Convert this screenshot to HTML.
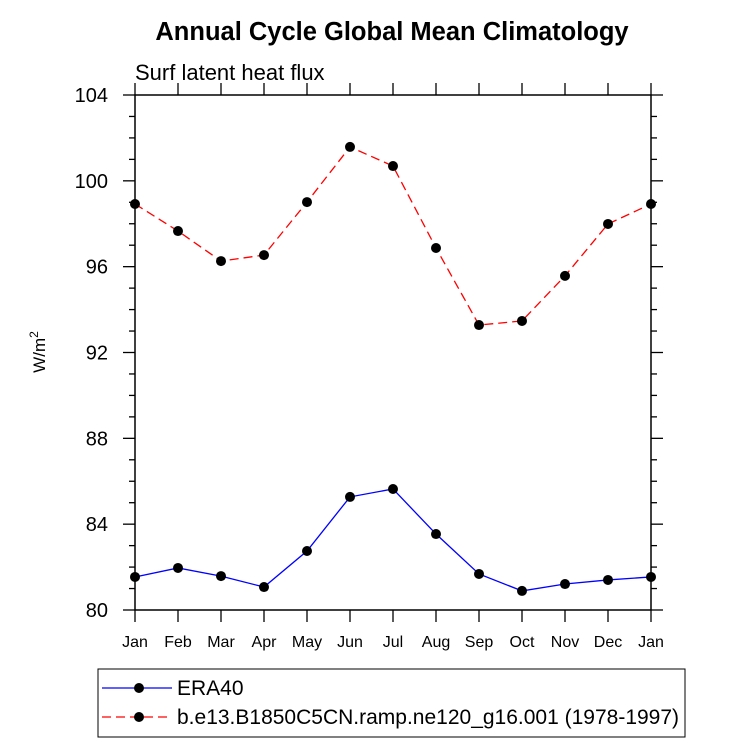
<!DOCTYPE html>
<html><head><meta charset="utf-8"><style>
body{margin:0;background:#fff;}
svg{display:block;font-family:"Liberation Sans",sans-serif;}
</style></head><body>
<svg id="chart" width="733" height="744">
<text x="392" y="40" text-anchor="middle" font-size="25.5" font-weight="bold">Annual Cycle Global Mean Climatology</text>
<text x="135" y="80" font-size="22">Surf latent heat flux</text>
<text transform="translate(45,352) rotate(-90)" text-anchor="middle" font-size="17">W/m<tspan dy="-7" font-size="12">2</tspan></text>
<g id="axes"></g>
<g id="series"></g>
<rect x="98" y="669" width="587" height="68" fill="none" stroke="#000" stroke-width="1"/>
<g id="legend"></g>
</svg>
<script>
const months=["Jan","Feb","Mar","Apr","May","Jun","Jul","Aug","Sep","Oct","Nov","Dec","Jan"];
const era40=[81.54,81.96,81.58,81.07,82.75,85.27,85.64,83.54,81.68,80.89,81.21,81.40,81.54];
const model=[98.92,97.66,96.26,96.54,99.01,101.58,100.69,96.87,93.28,93.47,95.57,97.99,98.92];
const yTicks=[80,84,88,92,96,100,104];
const seriesNames=["ERA40","b.e13.B1850C5CN.ramp.ne120_g16.001 (1978-1997)"];
const L=135,R=651,T=95,B=610,ymin=80,ymax=104;
const xs=i=>L+(R-L)*i/(months.length-1);
const ys=v=>B-(B-T)*(v-ymin)/(ymax-ymin);
const NS="http://www.w3.org/2000/svg";
function mk(tag,attrs,parent){const e=document.createElementNS(NS,tag);for(const k in attrs)e.setAttribute(k,attrs[k]);parent.appendChild(e);return e;}
const ax=document.getElementById('axes');
let fr=mk('rect',{x:L,y:T,width:R-L,height:B-T,fill:'none',stroke:'#000','stroke-width':1.5},ax);


months.forEach((m,i)=>{const x=xs(i);
 mk('line',{x1:x,y1:B,x2:x,y2:B+12,stroke:'#000','stroke-width':1.3},ax);
 mk('line',{x1:x,y1:T,x2:x,y2:T-12,stroke:'#000','stroke-width':1.3},ax);
 const t=mk('text',{x:x,y:B+37,'text-anchor':'middle','font-size':16},ax);t.textContent=m;
 
 
});
for(let v=ymin;v<=ymax;v++){const y=ys(v);const major=(v%4===0);const len=major?12:6;
 mk('line',{x1:L,y1:y,x2:L-len,y2:y,stroke:'#000','stroke-width':1.3},ax);
 mk('line',{x1:R,y1:y,x2:R+len,y2:y,stroke:'#000','stroke-width':1.3},ax);}
yTicks.forEach(v=>{const t=mk('text',{x:L-27,y:ys(v)+7,'text-anchor':'end','font-size':20},ax);t.textContent=v;
 
 });
const sg=document.getElementById('series');
function draw(vals,color,dash,name){
 const p=mk('polyline',{points:vals.map((v,i)=>xs(i)+','+ys(v)).join(' '),fill:'none',stroke:color,'stroke-width':1.3,'stroke-dasharray':dash},sg);
 
 
 vals.forEach((v,i)=>{const c=mk('circle',{cx:xs(i),cy:ys(v),r:5,fill:'#000'},sg);
  
  });
}
draw(era40,'#0000ff','none','era40');
draw(model,'#ff0000','9 5','model');
const lg=document.getElementById('legend');
[[688,'#0000ff','none'],[717,'#ff0000','9 5']].forEach((e,i)=>{
 mk('line',{x1:102,y1:e[0],x2:172,y2:e[0],stroke:e[1],'stroke-width':1.3,'stroke-dasharray':e[2]},lg);
 mk('circle',{cx:139,cy:e[0],r:5,fill:'#000'},lg);
 const t=mk('text',{x:177,y:e[0]+7,'font-size':21},lg);t.textContent=seriesNames[i];
 
 
});
</script>
</body></html>
